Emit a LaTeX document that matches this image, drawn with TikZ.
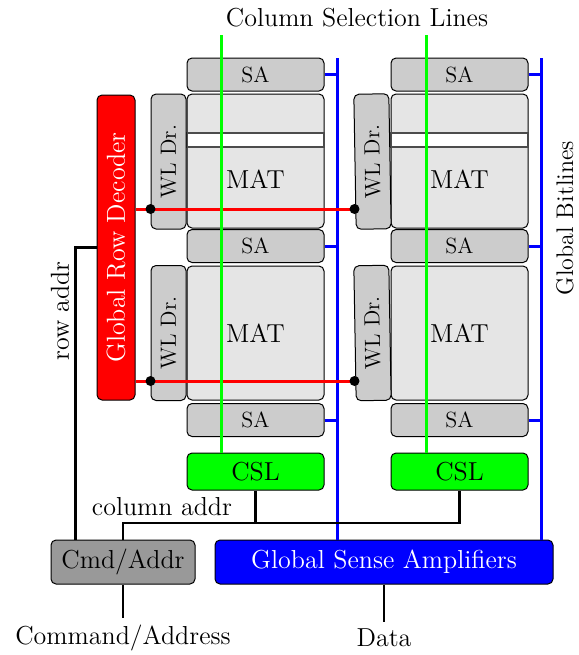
\documentclass[tikz,border=0pt]{standalone}
\usepackage{tikz}
\begin{document}
\begin{tikzpicture}[x=0.5pt,y=-0.5pt,
  font=\fontsize{13}{15}\selectfont,
  box/.style={draw, rounded corners=2.5pt, inner sep=0pt, line width=0.5pt},
  sa/.style={box, fill=black!20, minimum width=68.5pt, minimum height=16.5pt, font=\fontsize{11}{13}\selectfont},
  mat/.style={box, fill=black!10, minimum width=68.5pt, minimum height=67pt},
  openrow/.style={draw=black!70, fill=white, line width=0.6pt, inner sep=0pt, minimum width=68.5pt, minimum height=7pt},
  wldr/.style={box, fill=black!20, rotate=90, minimum width=67.5pt, minimum height=17.5pt, font=\fontsize{11}{13}\selectfont},
  csl/.style={box, fill=green, minimum width=68.5pt, minimum height=18.5pt},
  csline/.style={green, line width=1.5pt},
  bitline/.style={blue, line width=1.5pt},
  wordline/.style={red, line width=1.5pt},
  wire/.style={black, line width=1.2pt},
  dot/.style={circle, fill=black, inner sep=0pt, minimum size=5pt}
]
\useasboundingbox (0,0) rectangle (579,655);

% column 1
\node[sa] (sa11) at (255.5,74.5) {SA};
\node[mat] (mat11) at (255.5,161) {};
\node[openrow] (row11) at (255.5,140) {};
\node (lab11) at (255.5,179) {MAT};
\node[wldr] (wl11) at (168.5,161.5) {WL Dr.};
\node[sa] (sa12) at (255.5,246) {SA};
\node[mat] (mat12) at (255.5,333) {MAT};
\node[wldr] (wl13) at (168.5,333) {WL Dr.};
\node[sa] (sa13) at (255.5,420) {SA};
\node[csl] (csl1) at (255.5,471.5) {CSL};

% column 2
\node[sa] (sa21) at (459.5,74.5) {SA};
\node[mat] (mat21) at (459.5,161) {};
\node[openrow] (row21) at (459.5,140) {};
\node (lab21) at (459.5,179) {MAT};
\node[wldr, rotate=1] (wl21) at (372.5,161.5) {WL Dr.};
\node[sa] (sa22) at (459.5,246) {SA};
\node[mat] (mat22) at (459.5,333) {MAT};
\node[wldr, rotate=1] (wl23) at (372.5,333) {WL Dr.};
\node[sa] (sa23) at (459.5,420) {SA};
\node[csl] (csl2) at (459.5,471.5) {CSL};

% periphery
\node[box, fill=red, text=white, rotate=90, minimum width=152.5pt, minimum height=19pt] (grd) at (116,247.5) {Global Row Decoder};
\node[box, fill=black!40, minimum width=72pt, minimum height=22pt] (cmd) at (123,562) {Cmd/Addr};
\node[box, fill=blue, text=white, minimum width=169pt, minimum height=22pt] (gsa) at (384,562) {Global Sense Amplifiers};

\node (cmdaddr) at (123,638) {Command/Address};
\node (data) at (384,638) {Data};
\node (csltitle) at (357,18) {Column Selection Lines};
\node[rotate=90] (rowaddr) at (60,311) {row addr};
\node (coladdr) at (162,507) {column addr};
\node[rotate=90, font=\fontsize{12}{14}\selectfont] (gbl) at (565,218) {Global Bitlines};

\coordinate (bl1) at (337,58);
\coordinate (bl2) at (541,58);
\coordinate (cs1) at (221,35);
\coordinate (cs2) at (426,35);
\coordinate (wa) at (0,209);
\coordinate (wb) at (0,381);
\coordinate (bus) at (0,523);

% bitlines
\draw[bitline] (bl1) -- (bl1 |- gsa.north);
\draw[bitline] (bl2) -- (bl2 |- gsa.north);
\foreach \s in {sa11,sa12,sa13} \draw[bitline] (\s.east) -- (\s.east -| bl1);
\foreach \s in {sa21,sa22,sa23} \draw[bitline] (\s.east) -- (\s.east -| bl2);

% wordlines
\draw[wordline] (grd.south |- wa) -- (wl21.north |- wa);
\draw[wordline] (grd.south |- wb) -- (wl23.north |- wb);
\node[dot] (d11) at (wl11.north |- wa) {};
\node[dot] (d21) at (wl21.north |- wa) {};
\node[dot] (d13) at (wl13.north |- wb) {};
\node[dot] (d23) at (wl23.north |- wb) {};

% column select lines
\draw[csline] (cs1) -- (cs1 |- csl1.north);
\draw[csline] (cs2) -- (cs2 |- csl2.north);

% address and data wires
\draw[wire] (grd.north) -| ([xshift=12.5pt]cmd.north west);
\draw[wire] (csl2.south) |- (bus -| cmd.north) -- (cmd.north);
\draw[wire] (csl1.south) -- (csl1.south |- bus);
\draw[wire] (cmd.south) -- (cmdaddr.north);
\draw[wire] (gsa.south) -- (data.north);
\end{tikzpicture}
\end{document}
